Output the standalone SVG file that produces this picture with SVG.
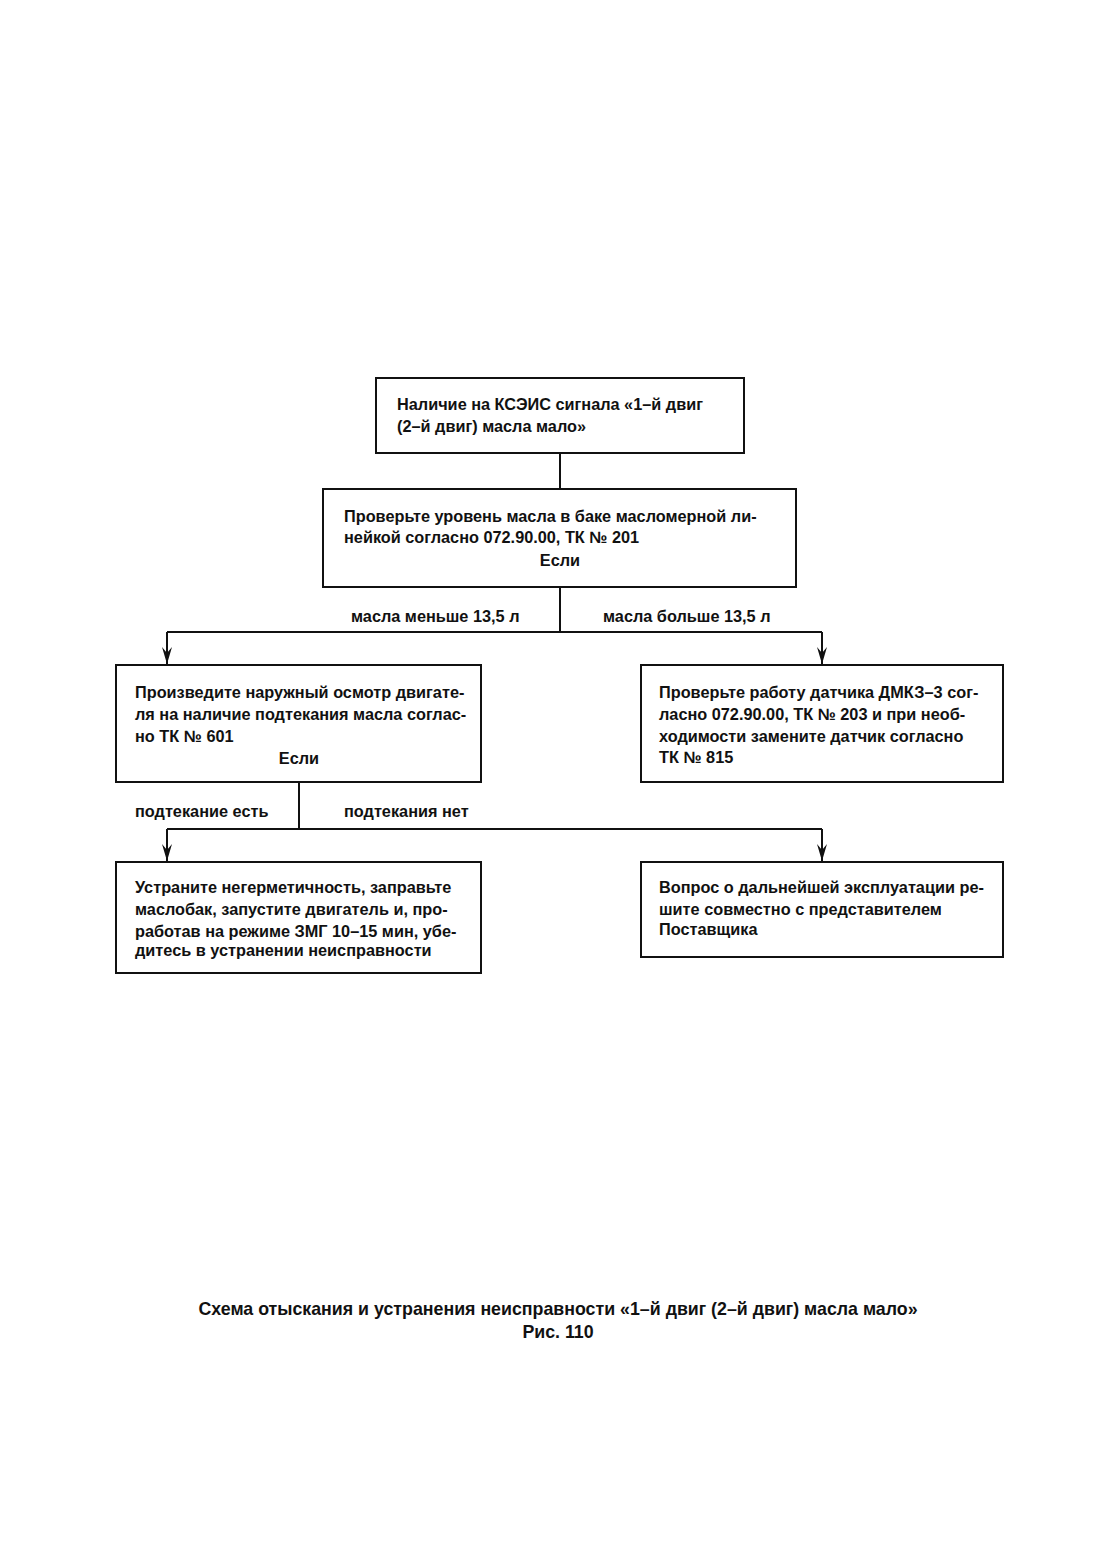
<svg xmlns="http://www.w3.org/2000/svg" width="1117" height="1559" viewBox="0 0 1117 1559">
<style>
.box{fill:#fff;stroke:#111;stroke-width:2}
.t{font-family:"Liberation Sans",Arial,sans-serif;font-size:16.3px;font-weight:bold;fill:#111}
.c{text-anchor:middle}
.cap{font-family:"Liberation Sans",Arial,sans-serif;font-size:17.8px;font-weight:bold;fill:#111;text-anchor:middle}
.ln{fill:none;stroke:#111;stroke-width:2}
</style>
<defs>
<marker id="ar" markerWidth="18" markerHeight="10" refX="17" refY="5" orient="auto" markerUnits="userSpaceOnUse" viewBox="0 0 18 10">
<path d="M0,0 L17,5 L0,10 L6,5 Z" fill="#111"/>
</marker>
</defs>
<rect width="1117" height="1559" fill="#fff"/>
<g id="connectors">
<path class="ln" d="M560,453 V489"/>
<path class="ln" d="M560,587 V632"/>
<path class="ln" d="M167,632 H822"/>
<path class="ln" d="M167,632 V664" marker-end="url(#ar)"/>
<path class="ln" d="M822,632 V664" marker-end="url(#ar)"/>
<path class="ln" d="M299,782 V829"/>
<path class="ln" d="M167,829 H822"/>
<path class="ln" d="M167,829 V861" marker-end="url(#ar)"/>
<path class="ln" d="M822,829 V861" marker-end="url(#ar)"/>
<text class="t" x="351" y="622">масла меньше 13,5 л</text>
<text class="t" x="603" y="622">масла больше 13,5 л</text>
<text class="t" x="135" y="817">подтекание есть</text>
<text class="t" x="344" y="817">подтекания нет</text>
</g>
<g id="n1">
<rect class="box" x="376" y="378" width="368" height="75"/>
<text class="t" x="397" y="410">Наличие на КСЭИС сигнала «1–й двиг</text>
<text class="t" x="397" y="432">(2–й двиг) масла мало»</text>
</g>
<g id="n2">
<rect class="box" x="323" y="489" width="473" height="98"/>
<text class="t" x="344" y="522">Проверьте уровень масла в баке масломерной ли-</text>
<text class="t" x="344" y="543">нейкой согласно 072.90.00, ТК № 201</text>
<text class="t c" x="560" y="566">Если</text>
</g>
<g id="n3">
<rect class="box" x="116" y="665" width="365" height="117"/>
<text class="t" x="135" y="698">Произведите наружный осмотр двигате-</text>
<text class="t" x="135" y="720">ля на наличие подтекания масла соглас-</text>
<text class="t" x="135" y="742">но ТК № 601</text>
<text class="t c" x="299" y="764">Если</text>
</g>
<g id="n4">
<rect class="box" x="641" y="665" width="362" height="117"/>
<text class="t" x="659" y="698">Проверьте работу датчика ДМКЗ–3 сог-</text>
<text class="t" x="659" y="720">ласно 072.90.00, ТК № 203 и при необ-</text>
<text class="t" x="659" y="742">ходимости замените датчик согласно</text>
<text class="t" x="659" y="763">ТК № 815</text>
</g>
<g id="n5">
<rect class="box" x="116" y="862" width="365" height="111"/>
<text class="t" x="135" y="893">Устраните негерметичность, заправьте</text>
<text class="t" x="135" y="915">маслобак, запустите двигатель и, про-</text>
<text class="t" x="135" y="937">работав на режиме ЗМГ 10–15 мин, убе-</text>
<text class="t" x="135" y="956">дитесь в устранении неисправности</text>
</g>
<g id="n6">
<rect class="box" x="641" y="862" width="362" height="95"/>
<text class="t" x="659" y="893">Вопрос о дальнейшей эксплуатации ре-</text>
<text class="t" x="659" y="915">шите совместно с представителем</text>
<text class="t" x="659" y="935">Поставщика</text>
</g>
<text class="cap" x="558" y="1315">Схема отыскания и устранения неисправности «1–й двиг (2–й двиг) масла мало»</text>
<text class="cap" x="558" y="1338">Рис. 110</text>
</svg>
